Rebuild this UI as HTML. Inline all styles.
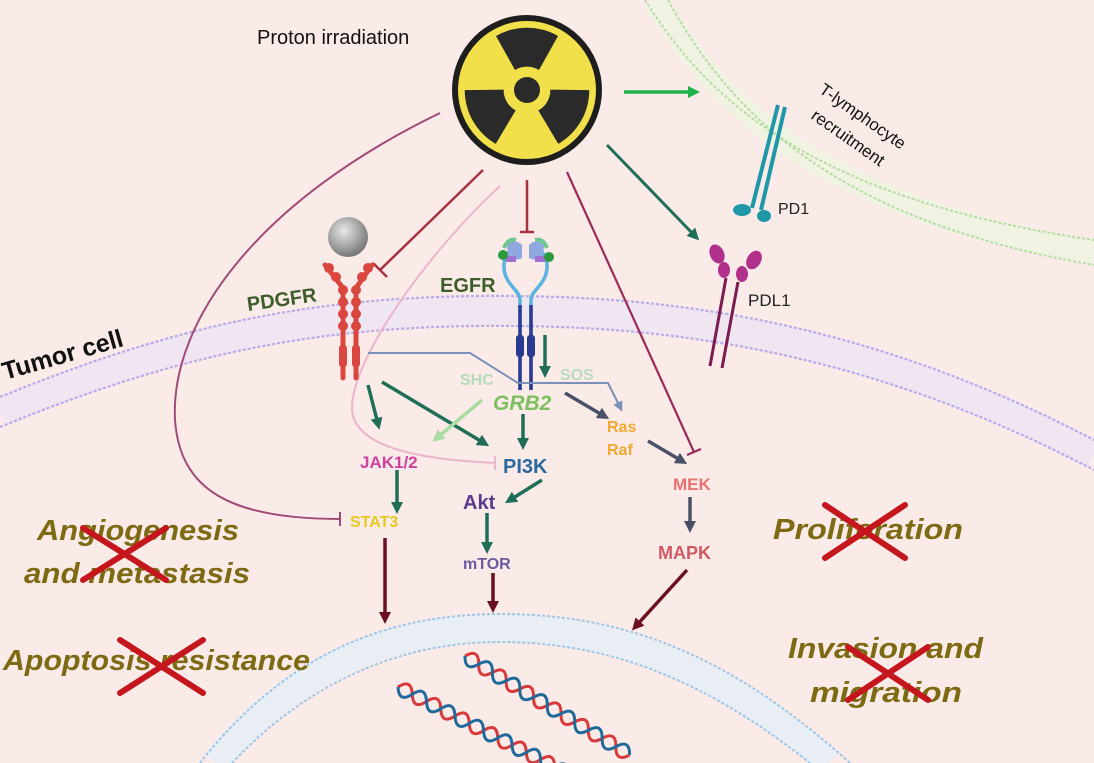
<!DOCTYPE html>
<html><head><meta charset="utf-8"><style>
html,body{margin:0;padding:0;background:#fbebe8;}
svg{display:block;}
text{font-family:"Liberation Sans",sans-serif;}
.out{font-weight:bold;font-style:italic;font-size:29px;fill:#7d6a12;}
.x{stroke:#c4161c;stroke-width:6;stroke-linecap:round;}
.lbl{font-weight:bold;}
</style></head><body>
<svg width="1094" height="763" viewBox="0 0 1094 763" xmlns="http://www.w3.org/2000/svg">
<defs>
<marker id="agl" markerWidth="12" markerHeight="12" refX="6" refY="6" orient="auto" markerUnits="userSpaceOnUse" viewBox="0 0 12 12"><path d="M0,0 L12,6 L0,12 z" fill="#1f6e58"/></marker>
<marker id="alg" markerWidth="12" markerHeight="12" refX="6" refY="6" orient="auto" markerUnits="userSpaceOnUse" viewBox="0 0 12 12"><path d="M0,0 L12,6 L0,12 z" fill="#a8dca0"/></marker>
<marker id="agr" markerWidth="12" markerHeight="12" refX="6" refY="6" orient="auto" markerUnits="userSpaceOnUse" viewBox="0 0 12 12"><path d="M0,0 L12,6 L0,12 z" fill="#22b24c"/></marker>
<marker id="ad" markerWidth="12" markerHeight="12" refX="6" refY="6" orient="auto" markerUnits="userSpaceOnUse" viewBox="0 0 12 12"><path d="M0,0 L12,6 L0,12 z" fill="#4a5068"/></marker>
<marker id="ar" markerWidth="12" markerHeight="12" refX="6" refY="6" orient="auto" markerUnits="userSpaceOnUse" viewBox="0 0 12 12"><path d="M0,0 L12,6 L0,12 z" fill="#6a1020"/></marker>
<marker id="ab" markerWidth="10" markerHeight="10" refX="5" refY="5" orient="auto" markerUnits="userSpaceOnUse" viewBox="0 0 10 10"><path d="M0,0 L10,5 L0,10 z" fill="#7a90b8"/></marker>
<radialGradient id="sph" cx="40%" cy="35%" r="65%"><stop offset="0" stop-color="#e8e8e8"/><stop offset="1" stop-color="#777"/></radialGradient>
</defs>

<!-- T cell membrane -->
<path d="M655,0 C720,110 830,210 1094,252" fill="none" stroke="#f0f3e2" stroke-width="24"/>
<path d="M645,0 C710,105 820,200 1094,240" fill="none" stroke="#b4dca0" stroke-width="2" stroke-dasharray="3,2"/>
<path d="M668,0 C732,118 842,222 1094,265" fill="none" stroke="#b4dca0" stroke-width="2" stroke-dasharray="3,2"/>

<!-- tumor membrane -->
<path d="M0,412 C200,330 350,305 560,312 C780,320 950,380 1094,455" fill="none" stroke="#efe6f2" stroke-width="30"/>
<path d="M0,397 C200,315 350,290 560,297 C780,305 950,365 1094,440" fill="none" stroke="#b8aae8" stroke-width="2.2" stroke-dasharray="3,2"/>
<path d="M0,427 C200,345 350,320 560,327 C780,335 950,395 1094,470" fill="none" stroke="#b8aae8" stroke-width="2.2" stroke-dasharray="3,2"/>

<!-- nucleus membrane -->
<path d="M215,763 C300,660 400,628 500,628 C620,628 720,670 830,763" fill="none" stroke="#e9eef5" stroke-width="28"/>
<path d="M200,763 C290,648 395,614 500,614 C625,614 730,655 850,763" fill="none" stroke="#9cc6e8" stroke-width="2" stroke-dasharray="3,2"/>
<path d="M232,763 C315,675 410,642 500,642 C615,642 710,684 810,763" fill="none" stroke="#9cc6e8" stroke-width="2" stroke-dasharray="3,2"/>

<!-- DNA -->
<g transform="translate(465,656) rotate(31)">
<path d="M0,0 q8,-14 16,0 t16,0 t16,0 t16,0 t16,0 t16,0 t16,0 t16,0 t16,0 t16,0 t16,0 t16,0" fill="none" stroke="#d8393a" stroke-width="3"/>
<path d="M0,0 q8,14 16,0 t16,0 t16,0 t16,0 t16,0 t16,0 t16,0 t16,0 t16,0 t16,0 t16,0 t16,0" fill="none" stroke="#1f6a9a" stroke-width="3"/>
</g>
<g transform="translate(398,687) rotate(27)">
<path d="M0,0 q8,-14 16,0 t16,0 t16,0 t16,0 t16,0 t16,0 t16,0 t16,0 t16,0 t16,0 t16,0 t16,0" fill="none" stroke="#d8393a" stroke-width="3"/>
<path d="M0,0 q8,14 16,0 t16,0 t16,0 t16,0 t16,0 t16,0 t16,0 t16,0 t16,0 t16,0 t16,0 t16,0" fill="none" stroke="#1f6a9a" stroke-width="3"/>
</g>

<!-- radiation symbol -->
<circle cx="527" cy="90" r="72" fill="#f2e04a" stroke="#1e1e1e" stroke-width="6"/>
<g fill="#2a2a2a">
<path d="M496,36 A62,62 0 0 1 558,36 L539,70 A23,23 0 0 0 515,70 Z"/>
<path d="M496,36 A62,62 0 0 1 558,36 L539,70 A23,23 0 0 0 515,70 Z" transform="rotate(120 527 90)"/>
<path d="M496,36 A62,62 0 0 1 558,36 L539,70 A23,23 0 0 0 515,70 Z" transform="rotate(240 527 90)"/>
<circle cx="527" cy="90" r="13"/>
</g>
<text x="257" y="44" font-size="20" fill="#111">Proton irradiation</text>

<line x1="624" y1="92" x2="694" y2="92" stroke="#22b24c" stroke-width="3.5" marker-end="url(#agr)"/>
<text transform="translate(818,92) rotate(35)" font-size="17" fill="#111">T-lymphocyte</text>
<text transform="translate(810,118) rotate(35)" font-size="17" fill="#111">recruitment</text>

<!-- PD1 -->
<g stroke="#1e98a8" stroke-width="4" fill="none"><line x1="778" y1="105" x2="752" y2="208"/><line x1="785" y1="107" x2="761" y2="210"/></g>
<ellipse cx="742" cy="210" rx="9" ry="6" fill="#1e98a8"/><ellipse cx="764" cy="216" rx="7" ry="6" fill="#1e98a8"/>
<text x="778" y="214" font-size="16" fill="#222">PD1</text>

<!-- PDL1 -->
<g stroke="#7a1a50" stroke-width="3" fill="none"><line x1="726" y1="278" x2="710" y2="366"/><line x1="738" y1="282" x2="722" y2="368"/></g>
<g fill="#b0308c"><ellipse cx="717" cy="254" rx="7" ry="10" transform="rotate(-25 717 254)"/><ellipse cx="724" cy="270" rx="6" ry="8"/><ellipse cx="754" cy="260" rx="7" ry="10" transform="rotate(30 754 260)"/><ellipse cx="742" cy="274" rx="6" ry="8"/></g>
<text x="748" y="306" font-size="17" fill="#222">PDL1</text>

<line x1="607" y1="145" x2="695" y2="236" stroke="#1f6e58" stroke-width="3" marker-end="url(#agl)"/>

<!-- inhibition lines -->
<line x1="483" y1="170" x2="380" y2="270" stroke="#a83240" stroke-width="2.5"/>
<line x1="373" y1="263" x2="387" y2="277" stroke="#a83240" stroke-width="2.5"/>
<line x1="527" y1="180" x2="527" y2="232" stroke="#a83240" stroke-width="2.5"/>
<line x1="520" y1="232" x2="534" y2="232" stroke="#a83240" stroke-width="2.5"/>
<line x1="567" y1="172" x2="694" y2="452" stroke="#9a2a5a" stroke-width="2.2"/>
<line x1="687" y1="455" x2="701" y2="449" stroke="#9a2a5a" stroke-width="2.2"/>
<path d="M440,113 C260,200 170,320 175,420 C180,490 230,519 340,519" fill="none" stroke="#a04a78" stroke-width="2"/>
<line x1="340" y1="512" x2="340" y2="526" stroke="#a04a78" stroke-width="2"/>
<path d="M500,186 C430,250 350,360 352,410 C355,450 430,460 495,463" fill="none" stroke="#ebb6cc" stroke-width="2"/>
<line x1="495" y1="456" x2="495" y2="470" stroke="#ebb6cc" stroke-width="2"/>

<!-- PDGFR -->
<circle cx="348" cy="237" r="20" fill="url(#sph)"/>
<g stroke="#d9473e" stroke-width="5" stroke-linecap="round" fill="none">
<path d="M325,265 L343,288 L343,378"/><path d="M372,265 L356,288 L356,378"/>
</g>
<g fill="#d9473e">
<circle cx="329" cy="268" r="5"/><circle cx="336" cy="277" r="5"/><circle cx="343" cy="290" r="5"/><circle cx="343" cy="302" r="5"/><circle cx="343" cy="314" r="5"/><circle cx="343" cy="326" r="5"/>
<circle cx="368" cy="268" r="5"/><circle cx="362" cy="277" r="5"/><circle cx="356" cy="290" r="5"/><circle cx="356" cy="302" r="5"/><circle cx="356" cy="314" r="5"/><circle cx="356" cy="326" r="5"/>
<rect x="339" y="345" width="8" height="22" rx="3"/><rect x="352" y="345" width="8" height="22" rx="3"/>
</g>
<text x="248" y="311" font-size="20" class="lbl" fill="#3d5d2a" transform="rotate(-8 248 311)">PDGFR</text>

<!-- EGFR -->
<g fill="none" stroke-width="3.5">
<path d="M520,390 L520,300 C520,290 505,285 504,268 C503,255 512,248 518,245" stroke="#5ab4e0"/>
<path d="M531,390 L531,300 C531,290 546,285 547,268 C548,255 539,248 533,245" stroke="#5ab4e0"/>
<path d="M520,390 L520,305" stroke="#2a3a90"/><path d="M531,390 L531,305" stroke="#2a3a90"/>
</g>
<rect x="516" y="335" width="8" height="22" rx="3" fill="#2a3a90"/><rect x="527" y="335" width="8" height="22" rx="3" fill="#2a3a90"/>
<path d="M507,245 Q515,238 522,245 L522,258 Q515,262 508,256 Z" fill="#90a8e0"/>
<path d="M544,245 Q536,238 529,245 L529,258 Q536,262 543,256 Z" fill="#90a8e0"/>
<rect x="506" y="256" width="10" height="6" fill="#a070d0"/><rect x="535" y="256" width="10" height="6" fill="#a070d0"/>
<path d="M504,248 Q508,238 516,240" stroke="#70c890" stroke-width="4" fill="none"/><path d="M547,248 Q543,238 535,240" stroke="#70c890" stroke-width="4" fill="none"/>
<circle cx="503" cy="255" r="5" fill="#2a9a3a"/><circle cx="549" cy="257" r="5" fill="#2a9a3a"/>
<text x="440" y="292" font-size="20" class="lbl" fill="#3d5d2a">EGFR</text>
<text x="5" y="380" font-size="25" class="lbl" fill="#111" transform="rotate(-16 5 380)">Tumor cell</text>

<path d="M368,353 L470,353 L518,383 L608,383 L620,407" fill="none" stroke="#7a90b8" stroke-width="2" marker-end="url(#ab)"/>

<text x="460" y="385" font-size="16" class="lbl" fill="#b4dcb4">SHC</text>
<text x="560" y="380" font-size="16" class="lbl" fill="#b8dcbc">SOS</text>
<text x="493" y="410" font-size="21" class="lbl" font-style="italic" fill="#7cc060">GRB2</text>
<text x="607" y="432" font-size="16" class="lbl" fill="#f0a830">Ras</text>
<text x="607" y="455" font-size="16" class="lbl" fill="#f0a830">Raf</text>

<g stroke-width="3.5">
<line x1="545" y1="335" x2="545" y2="372" stroke="#1f6e58" marker-end="url(#agl)"/>
<line x1="368" y1="385" x2="378" y2="424" stroke="#1f6e58" marker-end="url(#agl)"/>
<line x1="382" y1="382" x2="484" y2="443" stroke="#1f6e58" marker-end="url(#agl)"/>
<line x1="523" y1="414" x2="523" y2="444" stroke="#1f6e58" marker-end="url(#agl)"/>
<line x1="482" y1="400" x2="437" y2="438" stroke="#a8dca0" marker-end="url(#alg)"/>
<line x1="565" y1="393" x2="604" y2="416" stroke="#4a5068" marker-end="url(#ad)"/>
<line x1="648" y1="441" x2="682" y2="461" stroke="#4a5068" marker-end="url(#ad)"/>
<line x1="690" y1="497" x2="690" y2="527" stroke="#4a5068" marker-end="url(#ad)"/>
<line x1="397" y1="470" x2="397" y2="508" stroke="#1f6e58" marker-end="url(#agl)"/>
<line x1="542" y1="480" x2="510" y2="500" stroke="#1f6e58" marker-end="url(#agl)"/>
<line x1="487" y1="513" x2="487" y2="548" stroke="#1f6e58" marker-end="url(#agl)"/>
<line x1="385" y1="538" x2="385" y2="618" stroke="#6a1020" marker-end="url(#ar)"/>
<line x1="493" y1="573" x2="493" y2="607" stroke="#6a1020" marker-end="url(#ar)"/>
<line x1="687" y1="570" x2="636" y2="626" stroke="#6a1020" marker-end="url(#ar)"/>
</g>

<text x="360" y="468" font-size="17" class="lbl" fill="#d040a0">JAK1/2</text>
<text x="503" y="473" font-size="20" class="lbl" fill="#2a6aa0">PI3K</text>
<text x="463" y="509" font-size="20" class="lbl" fill="#5a3a90">Akt</text>
<text x="350" y="527" font-size="16" class="lbl" fill="#e8c820">STAT3</text>
<text x="463" y="569" font-size="16" class="lbl" fill="#6a5aa0">mTOR</text>
<text x="673" y="490" font-size="17" class="lbl" fill="#e87070">MEK</text>
<text x="658" y="559" font-size="18" class="lbl" fill="#d05a60">MAPK</text>

<text x="37" y="540" class="out" textLength="202" lengthAdjust="spacingAndGlyphs">Angiogenesis</text>
<text x="24" y="583" class="out" textLength="226" lengthAdjust="spacingAndGlyphs">and metastasis</text>
<text x="3" y="670" class="out" textLength="307" lengthAdjust="spacingAndGlyphs">Apoptosis resistance</text>
<text x="773" y="539" class="out" textLength="190" lengthAdjust="spacingAndGlyphs">Proliferation</text>
<text x="788" y="658" class="out" textLength="195" lengthAdjust="spacingAndGlyphs">Invasion and</text>
<text x="810" y="702" class="out" textLength="152" lengthAdjust="spacingAndGlyphs">migration</text>

<g class="x">
<line x1="83" y1="528" x2="166" y2="580"/><line x1="83" y1="580" x2="166" y2="528"/>
<line x1="120" y1="640" x2="203" y2="693"/><line x1="120" y1="693" x2="203" y2="640"/>
<line x1="825" y1="505" x2="905" y2="558"/><line x1="825" y1="558" x2="905" y2="505"/>
<line x1="848" y1="647" x2="928" y2="700"/><line x1="848" y1="700" x2="928" y2="647"/>
</g>
</svg>
</body></html>
